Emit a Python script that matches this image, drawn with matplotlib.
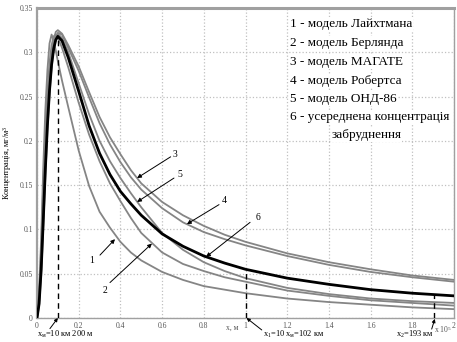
import matplotlib
matplotlib.use("Agg")
import matplotlib.pyplot as plt
import numpy as np

plt.rcParams['font.family'] = ['Liberation Serif', 'DejaVu Serif']
plt.rcParams['mathtext.fontset'] = 'custom'
plt.rcParams['mathtext.rm'] = 'Liberation Serif'
plt.rcParams['mathtext.it'] = 'Liberation Serif'

# distance, x 10^5 m
x = [0, 0.01, 0.02, 0.03, 0.04, 0.05, 0.06, 0.07, 0.08, 0.09, 0.1, 0.12, 0.15,
     0.2, 0.25, 0.3, 0.35, 0.4, 0.45, 0.5, 0.6, 0.7, 0.8, 0.9, 1.0, 1.2, 1.4,
     1.6, 1.8, 2.0]

# concentration, mg/m3
laikhtman = [0, 0.03, 0.09, 0.17, 0.235, 0.28, 0.31, 0.32, 0.313, 0.302, 0.29,
             0.268, 0.238, 0.189, 0.149, 0.12, 0.102, 0.086, 0.074, 0.065,
             0.052, 0.043, 0.036, 0.032, 0.028, 0.022, 0.018, 0.015, 0.012, 0.010]
berlyand = [0, 0.025, 0.08, 0.15, 0.21, 0.255, 0.288, 0.308, 0.318, 0.32, 0.317,
            0.305, 0.283, 0.243, 0.207, 0.177, 0.152, 0.132, 0.113, 0.096,
            0.074, 0.061, 0.053, 0.046, 0.041, 0.031, 0.025, 0.020, 0.017, 0.014]
magate = [0, 0.018, 0.058, 0.115, 0.175, 0.225, 0.265, 0.295, 0.314, 0.323, 0.325,
          0.321, 0.308, 0.284, 0.255, 0.227, 0.204, 0.185, 0.167, 0.152,
          0.131, 0.116, 0.104, 0.094, 0.086, 0.073, 0.063, 0.055, 0.048, 0.043]
roberts = [0, 0.014, 0.048, 0.102, 0.16, 0.212, 0.252, 0.283, 0.304, 0.316, 0.322,
           0.32, 0.305, 0.279, 0.249, 0.22, 0.196, 0.176, 0.159, 0.145,
           0.124, 0.108, 0.097, 0.089, 0.082, 0.070, 0.060, 0.052, 0.046, 0.041]
ond86 = [0, 0.02, 0.062, 0.12, 0.178, 0.228, 0.266, 0.294, 0.311, 0.319, 0.321,
         0.316, 0.3, 0.265, 0.23, 0.2, 0.177, 0.158, 0.141, 0.125,
         0.096, 0.077, 0.063, 0.053, 0.045, 0.034, 0.027, 0.022, 0.019, 0.017]
average = [0, 0.016, 0.055, 0.11, 0.168, 0.218, 0.257, 0.286, 0.304, 0.314, 0.318,
           0.313, 0.294, 0.256, 0.217, 0.186, 0.162, 0.143, 0.129, 0.116,
           0.095, 0.081, 0.070, 0.062, 0.055, 0.045, 0.038, 0.032, 0.028, 0.025]

legend_lines = ["1 - модель Лайхтмана", "2 - модель Берлянда", "3 - модель МАГАТЕ",
                "4 - модель Робертса", "5 - модель ОНД-86",
                "6 - усереднена концентрація", "забруднення"]

# curve number, label position, arrow tail, arrow head
labels = [("1", (0.263, 0.065), (0.302, 0.071), (0.374, 0.089)),
          ("2", (0.326, 0.031), (0.350, 0.040), (0.551, 0.084)),
          ("3", (0.662, 0.185), (0.641, 0.182), (0.480, 0.158)),
          ("5", (0.686, 0.162), (0.657, 0.158), (0.480, 0.131)),
          ("4", (0.897, 0.133), (0.873, 0.128), (0.719, 0.106)),
          ("6", (1.058, 0.114), (1.022, 0.108), (0.811, 0.069))]

marks = [0.1, 1.0, 1.905]
mark_texts = [("x$_\\mathrm{м}$=10 км 200 м", 0.0, (0.062, -0.012), (0.1, 0.0)),
              ("x$_1$=10 x$_\\mathrm{м}$=102 км", 1.085, (1.078, -0.0135), (1.005, 0.0)),
              ("x$_2$=193 км", 1.72, (1.893, -0.0125), (1.908, -0.001))]

xticks = [0, 0.2, 0.4, 0.6, 0.8, 1.0, 1.2, 1.4, 1.6, 1.8, 2.0]
xtick_labels = ["0", "0.2", "0.4", "0.6", "0.8", "1", "1.2", "1.4", "1.6", "1.8", "2"]
yticks = [0, 0.05, 0.1, 0.15, 0.2, 0.25, 0.3, 0.35]
ytick_labels = ["0", "0.05", "0.1", "0.15", "0.2", "0.25", "0.3", "0.35"]

fig = plt.figure(figsize=(4.57, 3.42), dpi=100)
ax = fig.add_axes([37 / 457, 24 / 342, 417 / 457, 310 / 342])

gray = "#858585"
for y in [laikhtman, berlyand, magate, roberts, ond86]:
    ax.plot(x, y, color=gray, lw=1.3, zorder=3)
ax.plot(x, average, color="black", lw=2.0, zorder=4)

for m in marks:
    ax.plot([m, m], [0, np.interp(m, x, average)], color="black", lw=1.0,
            ls=(0, (4, 3)), zorder=5)

for num, pos, tail, head in labels:
    ax.text(pos[0], pos[1], num, fontsize=7, ha="center", va="center")
    ax.annotate("", xy=head, xytext=tail,
                arrowprops=dict(arrowstyle="-|>", color="black", lw=0.7,
                                mutation_scale=6, shrinkA=0, shrinkB=0))

ys = [0.948, 0.887, 0.826, 0.765, 0.706, 0.648]
for i, t in enumerate(legend_lines[:6]):
    ax.text(0.607, ys[i], t, transform=ax.transAxes, fontsize=9.5, ha="left",
            va="center", bbox=dict(fc="white", ec="none", pad=0.5), zorder=6)
ax.text(0.79, 0.59, legend_lines[6], transform=ax.transAxes, fontsize=9.5,
        ha="center", va="center", bbox=dict(fc="white", ec="none", pad=0.5),
        zorder=6)

for t, tx, tail, head in mark_texts:
    ax.text(tx, -0.019, t, fontsize=6, ha="left", va="center")
    ax.annotate("", xy=head, xytext=tail, annotation_clip=False,
                arrowprops=dict(arrowstyle="-|>", color="black", lw=0.7,
                                mutation_scale=5, shrinkA=0, shrinkB=0))

ax.text(0.935, -0.0115, "x, м", fontsize=5.5, color="#555555", ha="center",
        va="center")
ax.text(1.945, -0.0135, "x 10$^5$", fontsize=5.5, color="#555555", ha="center",
        va="center")

ax.set_xlim(0, 2)
ax.set_ylim(0, 0.35)
ax.set_xticks(xticks)
ax.set_xticklabels(xtick_labels)
ax.set_yticks(yticks)
ax.set_yticklabels(ytick_labels)
ax.tick_params(length=0, labelsize=5.5, labelcolor="#555555", pad=3)
ax.grid(True, color="#c0c0c0", ls=":", lw=0.9)
for s in ax.spines.values():
    s.set_color("#a0a0a0")
    s.set_linewidth(1.0)
ax.spines["top"].set_linewidth(2.2)
ax.spines["left"].set_linewidth(1.6)

ax.set_ylabel("Концентрація, мг/м$^3$", fontsize=6, labelpad=4)

fig.savefig("out.png", dpi=100)
